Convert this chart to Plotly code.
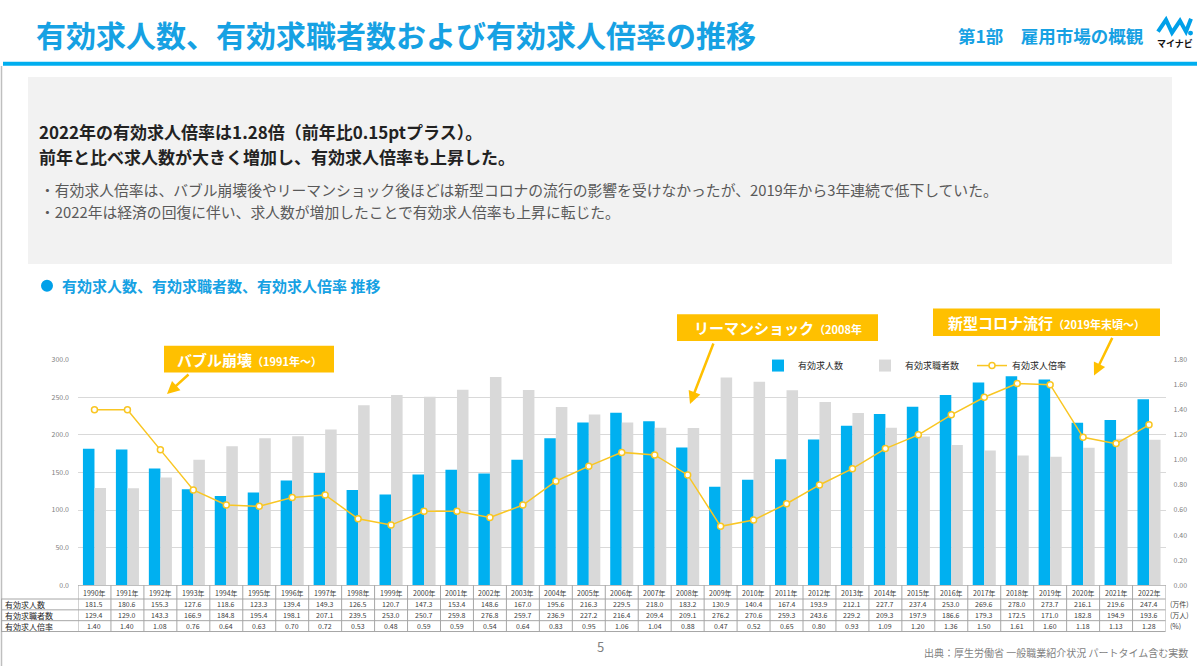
import plotly.graph_objects as go

# ---------------- data ----------------
years = ["1990年", "1991年", "1992年", "1993年", "1994年", "1995年", "1996年", "1997年",
         "1998年", "1999年", "2000年", "2001年", "2002年", "2003年", "2004年", "2005年",
         "2006年", "2007年", "2008年", "2009年", "2010年", "2011年", "2012年", "2013年",
         "2014年", "2015年", "2016年", "2017年", "2018年", "2019年", "2020年", "2021年", "2022年"]
openings = [181.5, 180.6, 155.3, 127.6, 118.6, 123.3, 139.4, 149.3, 126.5, 120.7, 147.3,
            153.4, 148.6, 167.0, 195.6, 216.3, 229.5, 218.0, 183.2, 130.9, 140.4, 167.4,
            193.9, 212.1, 227.7, 237.4, 253.0, 269.6, 278.0, 273.7, 216.1, 219.6, 247.4]
seekers = [129.4, 129.0, 143.3, 166.9, 184.8, 195.4, 198.1, 207.1, 239.5, 253.0, 250.7,
           259.8, 276.8, 259.7, 236.9, 227.2, 216.4, 209.4, 209.1, 276.2, 270.6, 259.3,
           243.6, 229.2, 209.3, 197.9, 186.6, 179.3, 172.5, 171.0, 182.8, 194.9, 193.6]
ratio = [1.40, 1.40, 1.08, 0.76, 0.64, 0.63, 0.70, 0.72, 0.53, 0.48, 0.59, 0.59, 0.54,
         0.64, 0.83, 0.95, 1.06, 1.04, 0.88, 0.47, 0.52, 0.65, 0.80, 0.93, 1.09, 1.20,
         1.36, 1.50, 1.61, 1.60, 1.18, 1.13, 1.28]
series_names = ["有効求人数", "有効求職者数", "有効求人倍率"]
units = ["(万件)", "(万人)", "(%)"]
left_ticks = [0, 50, 100, 150, 200, 250, 300]
right_ticks = [0.0, 0.2, 0.4, 0.6, 0.8, 1.0, 1.2, 1.4, 1.6, 1.8]

# ---------------- styling ----------------
W, H = 1200, 670
FONT = "Noto Sans CJK JP"
BLUE = "#00B0F0"
GRAY = "#D9D9D9"
YEL = "#FFC000"
TBLUE = "#16A1E3"


def px(x):
    return x / W


def py(y):
    return 1 - y / H


fig = go.Figure()
fig.add_trace(go.Bar(x=years, y=openings, name=series_names[0], marker_color=BLUE,
                     marker_line_width=0))
fig.add_trace(go.Bar(x=years, y=seekers, name=series_names[1], marker_color=GRAY,
                     marker_line_width=0))
fig.add_trace(go.Scatter(x=years, y=ratio, name=series_names[2], yaxis="y2",
                         mode="lines+markers",
                         line=dict(color="#F9C623", width=1.5),
                         marker=dict(symbol="circle", size=6, color="white",
                                     line=dict(color="#F9C623", width=1.5))))

shapes = []
ann = []

# header
ann.append(dict(x=px(34), y=py(28), xref="paper", yref="paper", xanchor="left", yanchor="middle",
                text="<b>有効求人数、有効求職者数および有効求人倍率の推移</b>", showarrow=False,
                font=dict(family=FONT, size=30, color=TBLUE)))
ann.append(dict(x=px(956), y=py(30), xref="paper", yref="paper", xanchor="left", yanchor="middle",
                text="<b>第1部　雇用市場の概観</b>", showarrow=False,
                font=dict(family=FONT, size=17.5, color=TBLUE)))
# logo
shapes.append(dict(type="path", xref="paper", yref="paper",
                   path=f"M {px(1158)} {py(26)} L {px(1166)} {py(14)} L {px(1172)} {py(27)} "
                        f"L {px(1180)} {py(15)} L {px(1186)} {py(26)} L {px(1191)} {py(13)}",
                   line=dict(color="#00A0E9", width=4)))
shapes.append(dict(type="circle", xref="paper", yref="paper",
                   x0=px(1188), x1=px(1193), y0=py(30), y1=py(25),
                   fillcolor="#00A0E9", line=dict(width=0)))
ann.append(dict(x=px(1175), y=py(38), xref="paper", yref="paper", xanchor="center", yanchor="middle",
                text="<b>マイナビ</b>", showarrow=False,
                font=dict(family=FONT, size=9, color="#111111")))
# header rule
shapes.append(dict(type="line", xref="paper", yref="paper", x0=px(3), x1=px(1197),
                   y0=py(58.5), y1=py(58.5), line=dict(color="#00AEEF", width=4)))
# left slide border
shapes.append(dict(type="line", xref="paper", yref="paper", x0=px(1.5), x1=px(1.5),
                   y0=py(61), y1=py(670), line=dict(color="#BFBFBF", width=1.5)))

# grey summary box
shapes.append(dict(type="rect", xref="paper", yref="paper", x0=px(28), x1=px(1172),
                   y0=py(72), y1=py(262), fillcolor="#F2F2F2", line=dict(width=0), layer="below"))
headline = ["<b>2022年の有効求人倍率は1.28倍（前年比0.15ptプラス）。</b>",
            "<b>前年と比べ求人数が大きく増加し、有効求人倍率も上昇した。</b>"]
for t, yy in zip(headline, [127.5, 152.5]):
    ann.append(dict(x=px(37), y=py(yy), xref="paper", yref="paper", xanchor="left",
                    yanchor="middle", text=t, showarrow=False,
                    font=dict(family=FONT, size=17, color="#222222")))
bullets = ["・有効求人倍率は、バブル崩壊後やリーマンショック後ほどは新型コロナの流行の影響を受けなかったが、2019年から3年連続で低下していた。",
           "・2022年は経済の回復に伴い、求人数が増加したことで有効求人倍率も上昇に転じた。"]
for t, yy in zip(bullets, [186, 208.5]):
    ann.append(dict(x=px(38), y=py(yy), xref="paper", yref="paper", xanchor="left",
                    yanchor="middle", text=t, showarrow=False,
                    font=dict(family=FONT, size=14.8, color="#595959")))

# section label
shapes.append(dict(type="circle", xref="paper", yref="paper", x0=px(41), x1=px(53),
                   y0=py(290), y1=py(278), fillcolor="#00A0E9", line=dict(width=0)))
ann.append(dict(x=px(60), y=py(284), xref="paper", yref="paper", xanchor="left", yanchor="middle",
                text="<b>有効求人数、有効求職者数、有効求人倍率 推移</b>", showarrow=False,
                font=dict(family=FONT, size=15, color=TBLUE)))

# callout boxes
callouts = [
    ("バブル崩壊", "（1991年〜）", 164, 334, 345, 372, (190, 373), (167, 394)),
    ("リーマンショック", "（2008年", 677, 878, 313, 340, (714, 342), (690, 404)),
    ("新型コロナ流行", "（2019年末頃〜）", 933, 1160, 307, 335, (1113, 336), (1094, 375)),
]
for main, sub, x0, x1, y0, y1, tail, head in callouts:
    shapes.append(dict(type="rect", xref="paper", yref="paper", x0=px(x0), x1=px(x1),
                       y0=py(y0), y1=py(y1), fillcolor=YEL, line=dict(width=0)))
    ann.append(dict(x=px((x0 + x1) / 2), y=py((y0 + y1) / 2), xref="paper", yref="paper",
                    xanchor="center", yanchor="middle", showarrow=False,
                    text=f"<b>{main}</b><span style='font-size:11px'><b>{sub}</b></span>",
                    font=dict(family=FONT, size=15, color="white")))
    ann.append(dict(x=px(head[0]), y=py(head[1]), xref="paper", yref="paper",
                    ax=tail[0] - head[0], ay=tail[1] - head[1], axref="pixel", ayref="pixel",
                    text="", showarrow=True, arrowhead=2, arrowsize=1, arrowwidth=2.5,
                    arrowcolor=YEL))

# ---------------- data table ----------------
n = len(years)
X0, X1 = 78, 1165.5
row_lines = [602, 613, 624, 635]
for yl in row_lines:
    shapes.append(dict(type="line", xref="paper", yref="paper", x0=px(1), x1=px(X1),
                       y0=py(yl), y1=py(yl), line=dict(color="#A6A6A6", width=1)))
for k in range(n + 1):
    shapes.append(dict(type="line", xref="x", yref="paper", x0=k - 0.5, x1=k - 0.5,
                       y0=py(588), y1=py(635), line=dict(color="#A6A6A6", width=1)))
shapes.append(dict(type="line", xref="paper", yref="paper", x0=px(1.5), x1=px(1.5),
                   y0=py(602), y1=py(635), line=dict(color="#A6A6A6", width=1)))
row_centers = [607.5, 618.5, 629.5]
for yr in years:
    ann.append(dict(x=yr, y=py(595.5), xref="x", yref="paper", xanchor="center", yanchor="middle",
                    text=yr, showarrow=False, font=dict(family=FONT, size=7, color="#404040")))
for r, (vals, fmt) in enumerate([(openings, "{:.1f}"), (seekers, "{:.1f}"), (ratio, "{:.2f}")]):
    ann.append(dict(x=px(3), y=py(row_centers[r]), xref="paper", yref="paper", xanchor="left",
                    yanchor="middle", text=series_names[r], showarrow=False,
                    font=dict(family=FONT, size=8, color="#262626")))
    ann.append(dict(x=px(X1 + 2), y=py(row_centers[r]), xref="paper", yref="paper", xanchor="left",
                    yanchor="middle", text=units[r], showarrow=False,
                    font=dict(family=FONT, size=7, color="#404040")))
    for yr, v in zip(years, vals):
        ann.append(dict(x=yr, y=py(row_centers[r]), xref="x", yref="paper", xanchor="center",
                        yanchor="middle", text=fmt.format(v), showarrow=False,
                        font=dict(family=FONT, size=7, color="#404040")))

# footer
ann.append(dict(x=px(600), y=py(650), xref="paper", yref="paper", xanchor="center", yanchor="middle",
                text="5", showarrow=False, font=dict(family=FONT, size=13, color="#7F7F7F")))
ann.append(dict(x=px(1190), y=py(656), xref="paper", yref="paper", xanchor="right", yanchor="middle",
                text="出典：厚生労働省 一般職業紹介状況 パートタイム含む実数", showarrow=False,
                font=dict(family=FONT, size=10, color="#7F7F7F")))

fig.update_layout(
    width=W, height=H, margin=dict(l=0, r=0, t=0, b=0),
    paper_bgcolor="white", plot_bgcolor="white",
    font=dict(family=FONT, size=9, color="#404040"),
    barmode="group", bargap=0.3, bargroupgap=0.0,
    xaxis=dict(domain=[px(X0), px(X1)], type="category", range=[-0.5, n - 0.5],
               showticklabels=False, showgrid=False, showline=True,
               linecolor="#BFBFBF", linewidth=1, ticks=""),
    yaxis=dict(domain=[py(588), py(359)], range=[0, 300], tickvals=left_ticks,
               tickformat=".1f", showgrid=True, gridcolor="#D9D9D9", gridwidth=1,
               zeroline=False, showline=False, ticks="", ticklabelstandoff=8,
               tickfont=dict(size=7, color="#808080")),
    yaxis2=dict(overlaying="y", side="right", range=[0, 1.8], tickvals=right_ticks,
                tickformat=".2f", showgrid=False, zeroline=False, showline=False, ticks="",
                ticklabelstandoff=7, tickfont=dict(size=7, color="#808080")),
    legend=dict(orientation="h", x=px(758), y=py(365), xanchor="left", yanchor="middle",
                entrywidth=62, font=dict(family=FONT, size=9, color="#262626"),
                bgcolor="rgba(0,0,0,0)", traceorder="normal"),
    shapes=shapes, annotations=ann, showlegend=True,
)

fig.write_html("out.html", config={"displayModeBar": False},
               post_script="document.body.style.margin='0';")
